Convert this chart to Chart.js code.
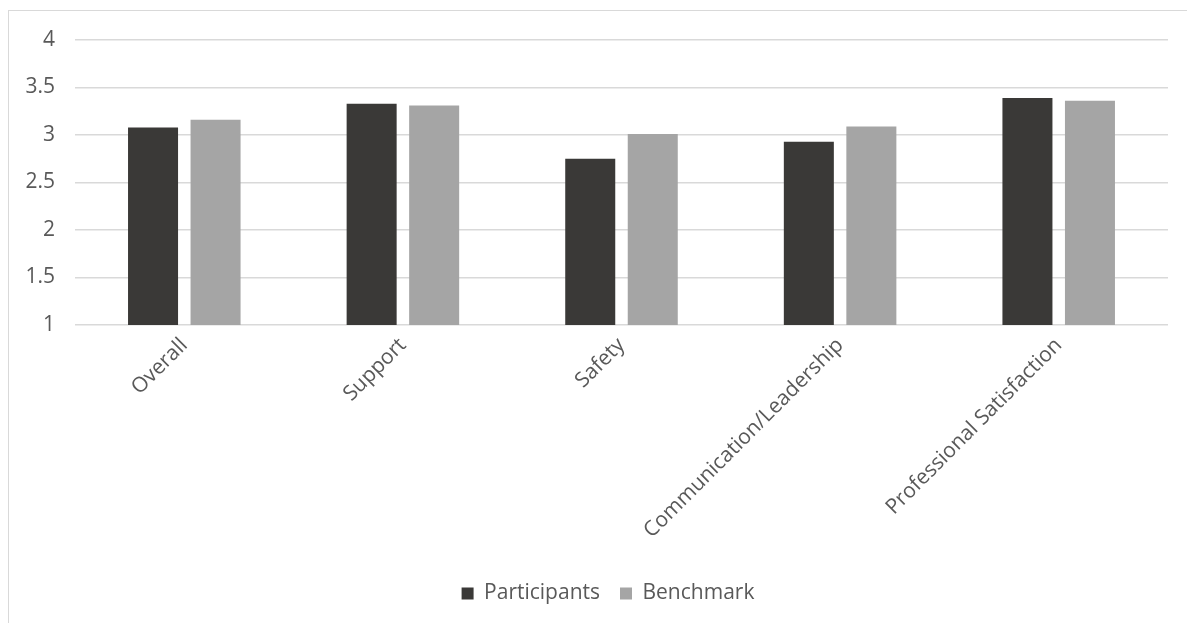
<!DOCTYPE html>
<html>
<head>
<meta charset="utf-8">
<script src="https://cdn.jsdelivr.net/npm/chart.js@4.4.1/dist/chart.umd.min.js"></script>
<style>
  html, body { margin: 0; padding: 0; background: #fff; }
  #frame {
    position: absolute; left: 8px; top: 10px; width: 1200px; height: 640px;
    border: 1px solid #d9d9d9; box-sizing: border-box;
  }
  #wrap { position: absolute; left: 0; top: 0; width: 1187px; height: 623px; }
</style>
</head>
<body>
<div id="frame"></div>
<div id="wrap"><canvas id="chart" width="1187" height="623"></canvas></div>
<script>
// ===== DATA =====
const categories = ["Overall", "Support", "Safety", "Communication/Leadership", "Professional Satisfaction"];
const participants = [3.08, 3.33, 2.75, 2.93, 3.39];
const benchmark = [3.16, 3.31, 3.01, 3.09, 3.36];
const yTicks = [1, 1.5, 2, 2.5, 3, 3.5, 4];

const TEXT = "#595959";
const FONT = "'Open Sans', sans-serif";
const FONT_SIZE = 21;

const ctx = document.getElementById("chart").getContext("2d");

// legend sits centred on the outer frame, a bit right of canvas centre
const legendShift = {
  id: "legendShift",
  afterLayout(chart) {
    chart.legend.left += 24;
    chart.legend.right += 24;
    chart.legend.adjustHitBoxes();
  }
};

new Chart(ctx, {
  type: "bar",
  data: {
    labels: categories,
    datasets: [
      { label: "Participants", data: participants, backgroundColor: "#3a3937", borderWidth: 0 },
      { label: "Benchmark", data: benchmark, backgroundColor: "#a5a5a5", borderWidth: 0 }
    ]
  },
  plugins: [legendShift],
  options: {
    responsive: false,
    animation: false,
    layout: { padding: { left: 0, right: 19, top: 40, bottom: 9 } },
    datasets: { bar: { categoryPercentage: 0.572, barPercentage: 0.8 } },
    plugins: {
      tooltip: { enabled: false },
      legend: {
        position: "bottom",
        labels: {
          color: TEXT,
          font: { family: FONT, size: FONT_SIZE },
          boxWidth: 12, boxHeight: 12, padding: 20
        }
      }
    },
    scales: {
      x: {
        grid: { display: false },
        border: { display: false },
        ticks: {
          color: TEXT, font: { family: FONT, size: FONT_SIZE },
          minRotation: 45, maxRotation: 45, autoSkip: false, padding: 0
        },
        afterFit(axis) { axis.height = 238; }
      },
      y: {
        min: 1, max: 4,
        afterBuildTicks(axis) { axis.ticks = yTicks.map(v => ({ value: v })); },
        grid: { color: "#d9d9d9", lineWidth: 1.5, drawTicks: false },
        border: { display: false },
        ticks: {
          color: TEXT, font: { family: FONT, size: FONT_SIZE }, padding: 20,
          callback: v => String(v)
        },
        afterFit(axis) { axis.width = 75; }
      }
    }
  }
});
</script>
</body>
</html>
